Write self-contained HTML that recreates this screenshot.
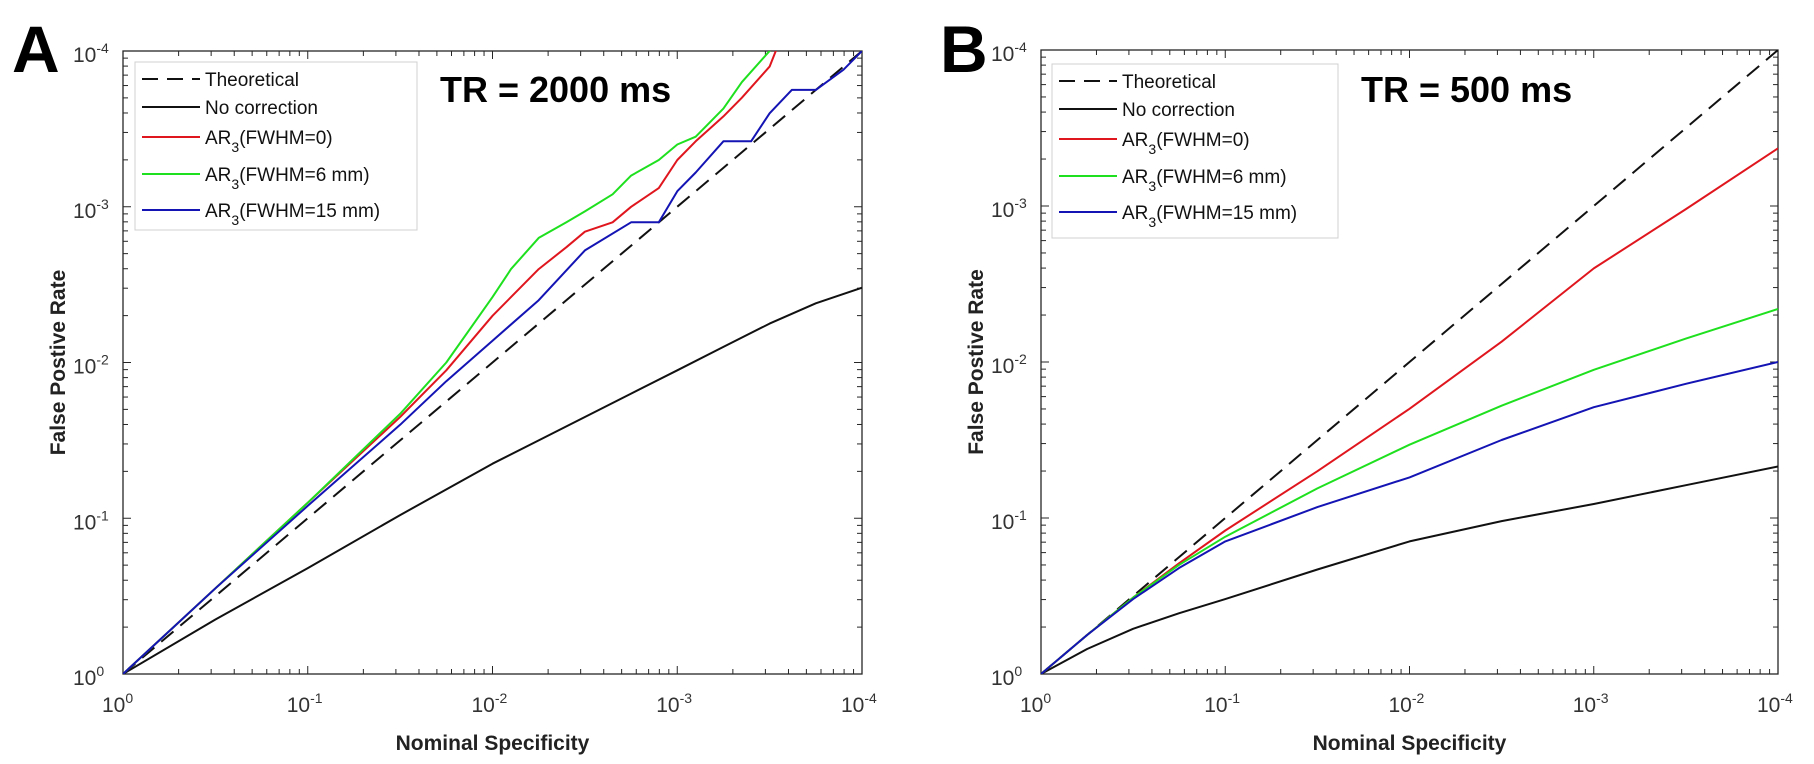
<!DOCTYPE html>
<html><head><meta charset="utf-8"><style>
html,body{margin:0;padding:0;background:#fff;}
svg{display:block;font-family:"Liberation Sans",Arial,sans-serif;}
</style></head><body>
<svg id="fig" width="1814" height="764" viewBox="0 0 1814 764" xmlns="http://www.w3.org/2000/svg">
<defs>
<clipPath id="clipA"><rect x="123" y="51" width="739" height="623"/></clipPath>
<clipPath id="clipB"><rect x="1041" y="50" width="737" height="624"/></clipPath>
</defs>
<g id="panelA"></g>
<g id="panelB"></g>
</svg>
<script>
// x positions are log10 decades of nominal specificity (0 → 10^0, 4 → 10^-4); y likewise
const xTickLabels = ["0","-1","-2","-3","-4"];
const yTickLabels = ["0","-1","-2","-3","-4"];
const legendLabels = ["Theoretical","No correction","AR3(FWHM=0)","AR3(FWHM=6 mm)","AR3(FWHM=15 mm)"];

// Panel A (TR = 2000 ms)
const aTheoX = [0,4];
const aTheoY = [0,4];
const aBlackX = [0,0.5,1,1.5,2,2.25,2.5,2.75,3,3.25,3.5,3.75,4];
const aBlackY = [0,0.35,0.68,1.02,1.35,1.5,1.65,1.8,1.95,2.1,2.25,2.38,2.48];
const aRedX = [0,0.5,1,1.5,1.75,2,2.1,2.25,2.4,2.5,2.65,2.75,2.9,3,3.1,3.25,3.35,3.5,3.6];
const aRedY = [0,0.55,1.1,1.65,1.95,2.3,2.42,2.6,2.74,2.84,2.9,3.0,3.12,3.3,3.42,3.58,3.7,3.9,4.2];
const aGreenX = [0,0.5,1,1.5,1.75,2,2.1,2.25,2.4,2.5,2.65,2.75,2.9,3,3.1,3.25,3.35,3.5,3.6];
const aGreenY = [0,0.55,1.1,1.67,2.0,2.42,2.6,2.8,2.9,2.97,3.08,3.2,3.3,3.4,3.45,3.63,3.8,4.0,4.3];
const aBlueX = [0,0.5,1,1.5,1.75,2,2.25,2.5,2.75,2.9,3,3.1,3.25,3.4,3.5,3.62,3.75,3.9,4];
const aBlueY = [0,0.55,1.08,1.6,1.88,2.14,2.4,2.72,2.9,2.9,3.1,3.22,3.42,3.42,3.6,3.75,3.75,3.88,4.0];

// Panel B (TR = 500 ms)
const bX = [0,0.25,0.5,0.75,1,1.5,2,2.5,3,3.5,4];
const bTheoY = [0,0.25,0.5,0.75,1,1.5,2,2.5,3,3.5,4];
const bBlackY = [0,0.16,0.29,0.39,0.48,0.67,0.85,0.98,1.09,1.21,1.33];
const bRedY = [0,0.25,0.49,0.71,0.92,1.3,1.7,2.13,2.6,2.98,3.37];
const bGreenY = [0,0.25,0.49,0.7,0.88,1.19,1.47,1.72,1.95,2.15,2.34];
const bBlueY = [0,0.25,0.48,0.68,0.85,1.07,1.26,1.5,1.71,1.86,2.0];

const NS = "http://www.w3.org/2000/svg";
function mk(tag, attrs, parent){const e=document.createElementNS(NS,tag);for(const k in attrs)e.setAttribute(k,attrs[k]);parent.appendChild(e);return e;}

function buildPanel(g, L, T, R, B, clipId, letter, trText, trX, series, legX, legY, legW, legH){
  const sx = d => L + d*(R-L)/4;
  const sy = d => B - d*(B-T)/4;
  const ax = "#262626";
  const lt = mk("text",{x:letter.x,y:72,"font-size":66,"font-weight":"bold",fill:"#000"},g);
  lt.textContent = letter.t;
  
  
  const box = mk("rect",{x:L,y:T,width:R-L,height:B-T,fill:"none",stroke:ax,"stroke-width":1.3},g);
  
  
  for(let d=0; d<4; d++){
    for(let m=1; m<=9; m++){
      const v = d + Math.log10(m);
      const len = m===1?8:5;
      const px = sx(v), py = sy(v);
      mk("line",{x1:px,y1:B,x2:px,y2:B-len,stroke:ax,"stroke-width":1},g);
      mk("line",{x1:px,y1:T,x2:px,y2:T+len,stroke:ax,"stroke-width":1},g);
      mk("line",{x1:L,y1:py,x2:L+len,y2:py,stroke:ax,"stroke-width":1},g);
      mk("line",{x1:R,y1:py,x2:R-len,y2:py,stroke:ax,"stroke-width":1},g);
    }
  }
  for(let i=0;i<xTickLabels.length;i++){
    const t = mk("text",{x:sx(i)-21,y:B+38,"font-size":21,fill:"#333"},g);
    
    
    t.appendChild(document.createTextNode("10"));
    const s = mk("tspan",{dy:-9,"font-size":14},t); s.textContent = xTickLabels[i];
  }
  for(let i=0;i<yTickLabels.length;i++){
    const t = mk("text",{x:L-50,y:sy(i)+11,"font-size":21,fill:"#333"},g);
    
    
    t.appendChild(document.createTextNode("10"));
    const s = mk("tspan",{dy:-9,"font-size":14},t); s.textContent = yTickLabels[i];
  }
  const xt = mk("text",{x:(L+R)/2,y:B+76,"font-size":21,"font-weight":"bold",fill:"#222","text-anchor":"middle"},g);
  xt.textContent = "Nominal Specificity";
  
  
  const yx = L-58, yy = (T+B)/2;
  const yt = mk("text",{x:yx,y:yy,"font-size":21,"font-weight":"bold",fill:"#222","text-anchor":"middle",transform:`rotate(-90 ${yx} ${yy})`},g);
  yt.textContent = "False Postive Rate";
  
  
  const cg = mk("g",{"clip-path":`url(#${clipId})`},g);
  series.forEach(s=>{
    const pts = s.x.map((v,i)=>sx(v).toFixed(1)+","+sy(s.y[i]).toFixed(1)).join(" ");
    const attrs = {points:pts,fill:"none",stroke:s.c,"stroke-width":2,"stroke-linejoin":"round"};
    if(s.dash) attrs["stroke-dasharray"]="16,9";
    const p = mk("polyline",attrs,cg);
    
    
  });
  const lg = mk("g",{},g);
  
  
  mk("rect",{x:legX,y:legY,width:legW,height:legH,fill:"#fff",stroke:"#d0d0d0","stroke-width":1},lg);
  const rows=[17,45,75,112,148];
  series.forEach((s,i)=>{
    const y = legY+rows[i];
    const la = {x1:legX+7,y1:y,x2:legX+65,y2:y,stroke:s.c,"stroke-width":2};
    if(s.dash) la["stroke-dasharray"]="16,9";
    mk("line",la,lg);
    const t = mk("text",{x:legX+70,y:y+7,"font-size":19,fill:"#111"},lg);
    
    
    const lab = legendLabels[i];
    if(lab.startsWith("AR3")){
      t.appendChild(document.createTextNode("AR"));
      const sb = mk("tspan",{dy:8,"font-size":14},t); sb.textContent="3";
      const rest = mk("tspan",{dy:-8},t); rest.textContent = lab.slice(3);
    } else t.textContent = lab;
  });
  const tr = mk("text",{x:trX,y:102,"font-size":36,"font-weight":"bold",fill:"#000"},g);
  tr.textContent = trText;
  
  
}

buildPanel(document.getElementById("panelA"),123,51,862,674,"clipA",{x:12,t:"A"},"TR = 2000 ms",440,[
  {name:"theoretical-line",x:aTheoX,y:aTheoY,c:"#111",dash:true},
  {name:"no-correction-line",x:aBlackX,y:aBlackY,c:"#111"},
  {name:"ar3-fwhm0-line",x:aRedX,y:aRedY,c:"#e0161e"},
  {name:"ar3-fwhm6-line",x:aGreenX,y:aGreenY,c:"#1fe01f"},
  {name:"ar3-fwhm15-line",x:aBlueX,y:aBlueY,c:"#1414b4"}
],135,62,282,168);

buildPanel(document.getElementById("panelB"),1041,50,1778,674,"clipB",{x:940,t:"B"},"TR = 500 ms",1361,[
  {name:"theoretical-line",x:bX,y:bTheoY,c:"#111",dash:true},
  {name:"no-correction-line",x:bX,y:bBlackY,c:"#111"},
  {name:"ar3-fwhm0-line",x:bX,y:bRedY,c:"#e0161e"},
  {name:"ar3-fwhm6-line",x:bX,y:bGreenY,c:"#1fe01f"},
  {name:"ar3-fwhm15-line",x:bX,y:bBlueY,c:"#1414b4"}
],1052,64,286,174);
</script>
</body></html>
